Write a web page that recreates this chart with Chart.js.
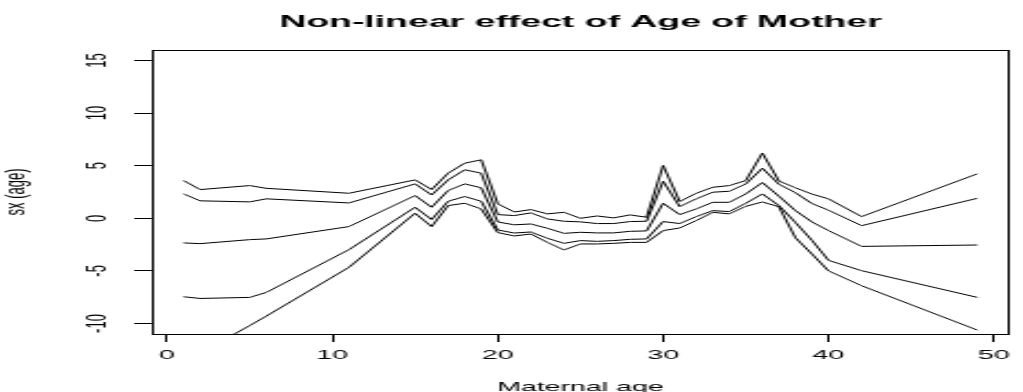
<!DOCTYPE html>
<html><head><meta charset="utf-8">
<script src="https://cdn.jsdelivr.net/npm/chart.js@4/dist/chart.umd.min.js"></script>
<style>html,body{margin:0;padding:0;background:#fff;overflow:hidden}</style></head>
<body><canvas id="c" width="465" height="392" style="display:block;width:1023px;height:392px"></canvas>
<script>
const ages = [1,2,5,6,11,15,16,17,18,19,20,21,22,23,24,25,26,27,28,29,30,31,32,33,34,35,36,37,38,39,40,42,49];
const upper95 = [3.59,2.73,3.11,2.85,2.38,3.65,2.73,4.29,5.24,5.56,1.37,0.6,0.83,0.42,0.57,0.0,0.22,0.04,0.32,0.1,5.02,1.59,2.38,2.95,3.11,3.59,6.2,3.55,2.9,2.3,1.85,0.16,4.23];
const upper80 = [2.32,1.66,1.56,1.85,1.46,3.27,2.22,3.65,4.61,4.29,0.35,0.26,0.51,-0.06,-0.28,-0.34,-0.5,-0.5,-0.31,-0.28,3.52,1.11,1.85,2.48,2.57,3.27,4.76,3.24,2.43,1.4,0.77,-0.7,1.9];
const meanEff = [-2.34,-2.41,-2.03,-1.96,-0.79,2.16,1.05,2.64,3.27,2.9,-0.35,-0.62,-0.54,-0.95,-1.43,-1.33,-1.39,-1.39,-1.24,-1.2,1.43,0.35,0.89,1.52,1.52,2.32,3.4,2.1,0.73,-0.35,-1.17,-2.67,-2.54];
const lower80 = [-7.46,-7.62,-7.52,-7.05,-2.98,1.05,-0.12,1.62,2.07,1.62,-1.11,-1.4,-1.3,-1.9,-2.38,-2.12,-2.19,-2.12,-2.0,-1.96,-0.31,-0.5,0.16,0.73,0.64,1.43,2.32,1.21,-0.4,-2.1,-4.0,-4.98,-7.52];
const lower95 = [-13.6,-12.8,-10.2,-9.3,-4.66,0.48,-0.79,1.21,1.43,0.89,-1.36,-1.68,-1.49,-2.29,-3.01,-2.44,-2.44,-2.38,-2.29,-2.29,-1.17,-0.92,-0.22,0.57,0.42,1.14,1.55,1.1,-1.85,-3.4,-5.0,-6.41,-10.63];
const xTicks = [0,10,20,30,40,50];
const yTicks = [-10,-5,0,5,10,15];
const titleText = 'Non-linear effect of Age of Mother';

const FONT = "'Liberation Sans', Arial, Helvetica, sans-serif";
const series = [upper95, upper80, meanEff, lower80, lower95];
const datasets = series.map(vals => ({
  data: ages.map((a, i) => ({x: a, y: vals[i]})),
  borderColor: '#000', borderWidth: 1, pointRadius: 0, tension: 0, fill: false
}));

const boxPlugin = {
  id: 'box',
  afterDatasetsDraw(chart) {
    const {ctx, chartArea: a} = chart;
    ctx.save();
    ctx.strokeStyle = '#000';
    ctx.lineWidth = 1;
    ctx.strokeRect(Math.round(a.left) + 0.5, Math.round(a.top) + 0.5,
                   Math.round(a.right - a.left) - 1, Math.round(a.bottom - a.top));
    // main title centred over the plot region (R style)
    ctx.fillStyle = '#000';
    ctx.font = "bold 17px " + FONT;
    ctx.textAlign = 'center';
    ctx.textBaseline = 'middle';
    ctx.fillText(titleText, (a.left + a.right) / 2, 22);
    ctx.restore();
  }
};

const canvas = document.getElementById('c');
new Chart(canvas, {
  type: 'line',
  data: {datasets},
  options: {
    responsive: false,
    devicePixelRatio: 1,
    animation: false,
    layout: {padding: {left: 0, right: 1, top: 50, bottom: 0}},
    plugins: {
      legend: {display: false},
      tooltip: {enabled: false},
      title: {display: false}
    },
    scales: {
      x: {
        type: 'linear', min: -0.92, max: 50.92,
        afterBuildTicks(s) { s.ticks = xTicks.map(v => ({value: v})); },
        afterFit(s) { s.height = 58; },
        grid: {display: true, drawOnChartArea: false, drawTicks: true, tickLength: 8, color: '#000', tickColor: '#000'},
        border: {display: false},
        ticks: {color: '#000', font: {family: FONT, size: 13}, padding: 6, maxRotation: 0, autoSkip: false},
        title: {display: true, text: 'Maternal age', color: '#000', font: {family: FONT, size: 13}, padding: {top: 0, bottom: -3}}
      },
      y: {
        type: 'linear', min: -11, max: 16,
        afterBuildTicks(s) { s.ticks = yTicks.map(v => ({value: v})); },
        afterFit(s) { s.width = 69; },
        grid: {display: true, drawOnChartArea: false, drawTicks: true, tickLength: 8, color: '#000', tickColor: '#000'},
        border: {display: false},
        ticks: {color: '#000', font: {family: FONT, size: 13}, padding: 7, minRotation: 90, maxRotation: 90, crossAlign: 'center', autoSkip: false},
        title: {display: true, text: 'sx (age)', color: '#000', font: {family: FONT, size: 13}, padding: {top: 0, bottom: 0}}
      }
    }
  },
  plugins: [boxPlugin]
});
canvas.style.width = '1023px';
canvas.style.height = '392px';
</script>
</body></html>
